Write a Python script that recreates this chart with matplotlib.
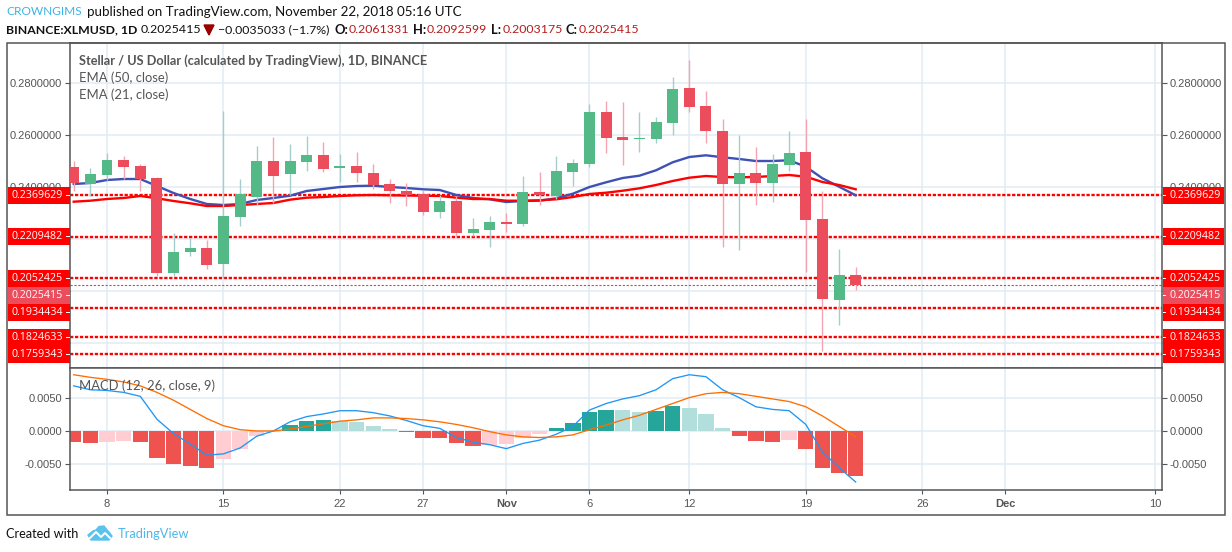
import matplotlib
matplotlib.use("Agg")
import matplotlib.pyplot as plt
from matplotlib.patches import Rectangle, Polygon
from matplotlib.lines import Line2D

W, H = 1232, 552

# days counted from Oct 8
days = list(range(-2, 46))

opens = [.24771, .24130, .24476, .25040, .24809, .24349, .20713, .21508, .21662, .21048, .22852, .23619,
         .25001, .24514, .24975, .25232, .24733, .24809, .24541, .24118, .23850, .23734, .23043, .23466,
         .22238, .22353, .22660, .22583, .23811, .23658, .24579, .24886, .26882, .25923, .25846, .25846,
         .26460, .27804, .27112, .26153, .24118, .24541, .24157, .24848, .25347, .22775, .19666, .2061331]
highs = [.25001, .24733, .25320, .25193, .24898, .24387, .22226, .22046, .21969, .26921, .24310, .25577,
         .25923, .25654, .25961, .25731, .25270, .25347, .24886, .24310, .24157, .23888, .23696, .23658,
         .22813, .22890, .23005, .24425, .24579, .25193, .25078, .27189, .27304, .27266, .26882, .26690,
         .28226, .28879, .27688, .26613, .25999, .25539, .25270, .26153, .26613, .23850, .21623, .2092599]
lows = [.23861, .23658, .24272, .24310, .23861, .20587, .20587, .21355, .20856, .20498, .22506, .23312,
        .23389, .23696, .24629, .24591, .24207, .24207, .23926, .23389, .23274, .22928, .22813, .22084,
        .22123, .21700, .22276, .22506, .23312, .23543, .24041, .24771, .25308, .24848, .25347, .25692,
        .25999, .26882, .25692, .21700, .21585, .23312, .23427, .24617, .20740, .17708, .18706, .2003175]
closes = [.24145, .24502, .25040, .24783, .24310, .20713, .21508, .21662, .21009, .22890, .23734, .25001,
          .24437, .25001, .25232, .24694, .24809, .24541, .24080, .23850, .23696, .23043, .23466, .22238,
          .22391, .22660, .22583, .23811, .23696, .24617, .24924, .26882, .25884, .25807, .25884, .26498,
          .27765, .27074, .26153, .24118, .24541, .24157, .24886, .25308, .22737, .19704, .20625, .2025415]

ema_blue = [.24118, .24157, .24272, .24310, .24310, .24041, .23773, .23543, .23351, .23312, .23351, .23504,
            .23581, .23669, .23850, .23926, .24003, .24041, .24053, .24003, .23965, .23915, .23888, .23696,
            .23581, .23531, .23427, .23466, .23477, .23569, .23746, .24003, .24184, .24349, .24437, .24645,
            .24952, .25155, .25220, .25144, .25078, .25001, .25001, .25028, .24783, .24337, .24015, .23684]
ema_red = [.23439, .23477, .23543, .23581, .23658, .23570, .23466, .23378, .23274, .23274, .23312, .23351,
           .23389, .23516, .23593, .23619, .23658, .23685, .23696, .23685, .23677, .23669, .23658, .23593,
           .23543, .23543, .23477, .23477, .23493, .23531, .23619, .23734, .23784, .23861, .23953, .24080,
           .24234, .24360, .24425, .24387, .24376, .24387, .24425, .24464, .24399, .24195, .24080, .23915]

levels = [0.2369629, 0.2209482, 0.2052425, 0.1934434, 0.1824633, 0.1759343]
last_price = 0.2025415

hist = [-.0017, -.0019, -.00165, -.0016, -.0017, -.0042, -.0051, -.0053, -.0056, -.0043, -.0028, -.0008,
        -.0002, .0009, .00158, .00162, .00158, .0013, .0007, .0003, -.0002, -.0010, -.0011, -.0019,
        -.0023, -.0022, -.0020, -.0011, -.0005, .0004, .0012, .0029, .0032, .00318, .00295, .0030,
        .0038, .0035, .0026, .0004, -.0007, -.0016, -.0017, -.0014, -.0028, -.0056, -.0065, -.0069]
macd = [.0069, .0063, .0062, .0059, .0053, .0018, -.0004, -.0020, -.0037, -.0035, -.0026, -.0008,
        .0000, .0014, .0022, .0026, .0031, .0031, .0028, .0023, .0016, .0008, .0004, -.0010,
        -.0017, -.0021, -.0027, -.0019, -.0014, -.0005, .0007, .0032, .0042, .0049, .0054, .0063,
        .0080, .0086, .0083, .0063, .0051, .0037, .0033, .0031, .0010, -.0032, -.0056, -.0078]
signal = [.0086, .0082, .0079, .0075, .0069, .0059, .0047, .0033, .0019, .0008, .0002, .0000,
          .0000, .0003, .0007, .0011, .0015, .0017, .0020, .0020, .0019, .0017, .0014, .0010,
          .0005, -.0001, -.0006, -.0009, -.0010, -.0009, -.0006, .0002, .0009, .0017, .0024, .0033,
          .0042, .0051, .0057, .0059, .0057, .0053, .0049, .0045, .0037, .0023, .0007, -.0009]

price_ticks = [0.28, 0.26, 0.24, 0.22, 0.20, 0.18]
price_labels = ['0.2800000', '0.2600000', '0.2400000', '', '', '']  # the rest sit under the red boxes
macd_ticks = [0.005, 0.0, -0.005]
x_ticks = [0, 7, 14, 19, 24, 29, 35, 42, 49, 54, 63]
x_labels = ['8', '15', '22', '27', 'Nov', '6', '12', '19', '26', 'Dec', '10']

GREY = '#555555'
GRID = '#E3ECF3'
RED = '#FF0000'
UI = 'Lato'
AXF = 'Liberation Sans'

fig = plt.figure(figsize=(W / 100, H / 100), dpi=100, facecolor='white')


def px_axes(x0, y0, x1, y1):
    return fig.add_axes([x0 / W, 1 - y1 / H, (x1 - x0) / W, (y1 - y0) / H])


def txt(x, y, s, **kw):
    kw.setdefault('va', 'center')
    kw.setdefault('family', UI)
    return fig.text(x / W, 1 - y / H, s, **kw)


def px_rect(x0, y0, x1, y1, **kw):
    r = Rectangle((x0 / W, 1 - y1 / H), (x1 - x0) / W, (y1 - y0) / H,
                  transform=fig.transFigure, **kw)
    fig.add_artist(r)


ax = px_axes(69.5, 43, 1162, 368)
ax2 = px_axes(69.5, 368, 1162, 490.3)

for a in (ax, ax2):
    a.set_xlim(-2.254, 63.41)
    a.set_xticks(x_ticks)
    a.grid(True, color=GRID, lw=1.1)
    a.set_axisbelow(True)
    for s in a.spines.values():
        s.set_color(GREY)
        s.set_linewidth(1.1)
    a.tick_params(axis='y', left=True, right=True, labelleft=True, labelright=True,
                  length=3.5, width=0.8, color=GREY, labelcolor=GREY, labelsize=8, pad=2)

ax.set_ylim(0.17055, 0.29531)
ax.set_yticks(price_ticks)
ax.set_yticklabels(price_labels, family=AXF)
ax.tick_params(axis='x', bottom=False, labelbottom=False)

ax.hlines(levels, -2.254, 63.41, color=RED, lw=1.7, linestyles=[(0, (1.4, 0.7))], zorder=2)
ax.axhline(last_price, color='#E2404F', lw=0.8, ls=(0, (2, 1.5)), zorder=2)

ax.plot(days, ema_blue, color='#3F51B5', lw=1.7, zorder=3)
ax.plot(days, ema_red, color='#FF0000', lw=1.7, zorder=3)

up = [c >= o for o, c in zip(opens, closes)]
wick_cols = ['#A5CDCD' if u else '#F5A5B2' for u in up]
body_cols = ['#53B987' if u else '#EB4D5C' for u in up]
ax.vlines(days, lows, highs, colors=wick_cols, lw=1.0, zorder=4)
ax.bar(days, [abs(c - o) for o, c in zip(opens, closes)], bottom=[min(o, c) for o, c in zip(opens, closes)],
       width=0.66, color=body_cols, zorder=5)

ax2.set_ylim(-0.00907, 0.00963)
ax2.set_yticks(macd_ticks)
ax2.set_yticklabels(['%.4f' % v for v in macd_ticks], family=AXF)
ax2.set_xticklabels(x_labels, family=AXF)
ax2.tick_params(axis='x', length=3, width=0.8, color=GREY, labelcolor=GREY, labelsize=8, pad=3.5)
for lab, s in zip(ax2.get_xticklabels(), x_labels):
    if s in ('Nov', 'Dec'):
        lab.set_fontweight('bold')

hist_cols = []
prev = None
for v in hist:
    rising = prev is not None and v > prev
    if v >= 0:
        hist_cols.append('#26A69A' if rising else '#B2DFDB')
    else:
        hist_cols.append('#FFCDD2' if rising else '#EF5350')
    prev = v
ax2.bar(days, hist, width=0.92, color=hist_cols, zorder=2)
ax2.plot(days, macd, color='#2196F3', lw=0.95, zorder=3)
ax2.plot(days, signal, color='#FF6D00', lw=0.95, zorder=3)

# outer frame
px_rect(6.5, 43, 1225, 515, fill=False, edgecolor=GREY, lw=1.1, zorder=1)


def price_box(y, s, colour, top=None, bottom=None):
    top = y - 8.5 if top is None else top
    bottom = y + 8.5 if bottom is None else bottom
    px_rect(7.5, top, 69.5, bottom, color=colour, lw=0, zorder=3)
    px_rect(1162.5, top, 1224, bottom, color=colour, lw=0, zorder=3)
    txt(63, y + 0.5, s, color='white', ha='right', fontsize=7.7, family='Open Sans', zorder=4)
    txt(1169, y + 0.5, s, color='white', ha='left', fontsize=7.7, family='Open Sans', zorder=4)
    # small white tick inside the box
    px_rect(66, y - 0.5, 69.5, y + 0.5, color='white', lw=0, zorder=4)
    px_rect(1162.5, y - 0.5, 1166, y + 0.5, color='white', lw=0, zorder=4)


label_rows = [195, 236.3, 278.3, 312, 337, 354]
for v, y in zip(levels, label_rows):
    price_box(y, '%.7f' % v, RED)
price_box(295.5, '%.7f' % last_price, '#EB4D5C', top=287, bottom=304)

# pane legends
txt(79, 60.5, 'Stellar / US Dollar (calculated by TradingView), 1D, BINANCE', color=GREY,
    fontsize=9.2, fontweight='bold', zorder=5)
txt(79, 77.5, 'EMA (50, close)', color=GREY, fontsize=9.4, zorder=5)
txt(79, 94.5, 'EMA (21, close)', color=GREY, fontsize=9.4, zorder=5)
txt(79, 385.5, 'MACD (12, 26, close, 9)', color=GREY, fontsize=9.4, zorder=5)

# header rows
txt(6, 11.5, 'CROWNGIMS', color='#3BB3E4', fontsize=8.6)
txt(87, 11.5, 'published on TradingView.com, November 22, 2018 05:16 UTC', color='#111111', fontsize=9.66)
txt(6, 29.5, 'BINANCE:XLMUSD, 1D', color='#111111', fontsize=8.8, fontweight='bold')
txt(141, 29.5, '0.2025415', color='#111111', fontsize=8.9)
fig.add_artist(Polygon([(204 / W, 1 - 25 / H), (214 / W, 1 - 25 / H), (209 / W, 1 - 35 / H)],
                       closed=True, color='#990000', transform=fig.transFigure))
txt(218, 29.5, '\u22120.0035033 (\u22121.7%)', color='#111111', fontsize=8.9)
row = [(335, 'O:', 349, '0.2061331'), (413, 'H:', 427, '0.2092599'),
       (491, 'L:', 503, '0.2003175'), (566, 'C:', 579, '0.2025415')]
for xa, a_s, xb, b_s in row:
    txt(xa, 29.5, a_s, color='#111111', fontsize=9.4, fontweight='bold')
    txt(xb, 29.5, b_s, color='#B71C1C', fontsize=8.9)

# footer
txt(6, 534.5, 'Created with', color='#111111', fontsize=9.2)
txt(118, 534.5, 'TradingView', color='#4DB8E8', fontsize=9.3)
cloud = [(88, 535), (93, 531), (96, 530), (99, 526.5), (104, 526), (107, 530), (109, 532), (112, 536),
         (109, 540), (91, 540)]
fig.add_artist(Polygon([(x / W, 1 - y / H) for x, y in cloud], closed=True, color='#5BC2EC',
                       transform=fig.transFigure))
zig = [(90, 538), (96, 532), (101, 537), (105, 533), (110, 538)]
fig.add_artist(Line2D([x / W for x, y in zig], [1 - y / H for x, y in zig], color='white', lw=1.4,
                      transform=fig.transFigure))

fig.savefig('out.png', dpi=100)
